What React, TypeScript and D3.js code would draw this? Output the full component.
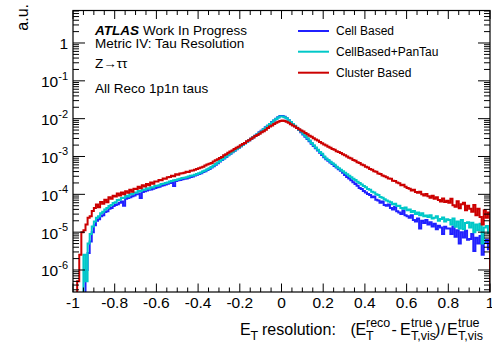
import React from 'react';
import * as d3 from 'd3';

// ---- data (log10 of normalised bin content, 200 bins of width 0.01 from -1 to 1) ----
const BIN_LOW = -1;
const BIN_WIDTH = 0.01;

const clusterBasedLog: (number | null)[] = [
  null, null, -6.3, -5.6, -5.0, -4.95, -4.8, -4.62, -4.58, -4.44,
  -4.36, -4.27, -4.34, -4.20, -4.25, -4.14, -4.21, -4.08, -4.12, -4.04,
  -4.06, -3.98, -4.03, -3.95, -4.00, -3.92, -3.96, -3.88, -3.93, -3.85,
  -3.86, -3.80, -3.84, -3.76, -3.79, -3.73, -3.76, -3.69, -3.72, -3.66,
  -3.66, -3.62, -3.63, -3.58, -3.59, -3.55, -3.54, -3.51, -3.52, -3.47,
  -3.48, -3.45, -3.44, -3.43, -3.40, -3.41, -3.38, -3.37, -3.35, -3.33,
  -3.31, -3.29, -3.27, -3.24, -3.21, -3.19, -3.17, -3.13, -3.10, -3.07,
  -3.04, -3.01, -2.97, -2.94, -2.90, -2.87, -2.84, -2.80, -2.77, -2.74,
  -2.70, -2.67, -2.64, -2.60, -2.57, -2.53, -2.50, -2.46, -2.43, -2.40,
  -2.36, -2.33, -2.29, -2.25, -2.21, -2.18, -2.14, -2.11, -2.08, -2.06,
  -2.05, -2.06, -2.08, -2.11, -2.15, -2.18, -2.21, -2.25, -2.28, -2.31,
  -2.34, -2.38, -2.41, -2.45, -2.48, -2.52, -2.55, -2.58, -2.62, -2.65,
  -2.68, -2.71, -2.74, -2.77, -2.80, -2.82, -2.86, -2.88, -2.91, -2.94,
  -2.97, -3.00, -3.03, -3.05, -3.09, -3.11, -3.15, -3.17, -3.21, -3.23,
  -3.27, -3.29, -3.33, -3.35, -3.39, -3.40, -3.45, -3.46, -3.50, -3.52,
  -3.55, -3.58, -3.59, -3.64, -3.65, -3.69, -3.71, -3.76, -3.75, -3.80,
  -3.83, -3.85, -3.90, -3.88, -3.94, -3.96, -3.93, -4.00, -4.03, -3.99,
  -4.05, -4.09, -4.04, -4.12, -4.08, -4.15, -4.19, -4.11, -4.20, -4.17,
  -4.22, -4.12, -4.29, -4.33, -4.18, -4.37, -4.26, -4.22, -4.42, -4.30,
  -4.38, -4.46, -4.28, -4.55, -4.38, -4.60, -4.80, -4.42, -4.62, -4.48,
];

const cellPanTauLog: (number | null)[] = [
  null, null, null, null, null, -5.6, -6.3, -5.3, -5.05, -4.85,
  -4.72, -4.62, -4.58, -4.50, -4.46, -4.40, -4.36, -4.31, -4.28, -4.23,
  -4.21, -4.15, -4.14, -4.10, -4.09, -4.04, -4.06, -3.99, -4.00, -3.95,
  -3.96, -3.91, -3.92, -3.87, -3.88, -3.84, -3.85, -3.81, -3.82, -3.78,
  -3.77, -3.76, -3.73, -3.72, -3.70, -3.69, -3.66, -3.65, -3.63, -3.62,
  -3.60, -3.59, -3.57, -3.56, -3.55, -3.53, -3.51, -3.50, -3.48, -3.46,
  -3.44, -3.42, -3.39, -3.37, -3.34, -3.31, -3.28, -3.24, -3.20, -3.16,
  -3.12, -3.08, -3.04, -3.00, -2.96, -2.92, -2.88, -2.84, -2.80, -2.77,
  -2.73, -2.69, -2.65, -2.61, -2.57, -2.53, -2.49, -2.45, -2.41, -2.37,
  -2.33, -2.28, -2.24, -2.19, -2.14, -2.10, -2.05, -2.01, -1.97, -1.94,
  -1.94, -1.96, -1.99, -2.04, -2.09, -2.14, -2.19, -2.24, -2.29, -2.34,
  -2.40, -2.46, -2.52, -2.58, -2.64, -2.70, -2.76, -2.82, -2.88, -2.93,
  -3.00, -3.05, -3.09, -3.14, -3.18, -3.22, -3.27, -3.31, -3.35, -3.39,
  -3.43, -3.47, -3.51, -3.55, -3.59, -3.62, -3.67, -3.70, -3.74, -3.78,
  -3.81, -3.86, -3.88, -3.93, -3.95, -4.00, -4.02, -4.07, -4.09, -4.13,
  -4.16, -4.19, -4.21, -4.26, -4.25, -4.31, -4.30, -4.36, -4.38, -4.35,
  -4.42, -4.40, -4.47, -4.44, -4.52, -4.48, -4.55, -4.50, -4.58, -4.56,
  -4.60, -4.55, -4.64, -4.62, -4.58, -4.70, -4.65, -4.61, -4.72, -4.66,
  -4.68, -4.80, -4.64, -4.86, -4.72, -4.90, -4.68, -4.92, -4.76, -4.74,
  -4.88, -4.75, -5.00, -4.80, -4.95, -4.78, -5.30, -4.88, -4.84, -5.02,
];

const cellBasedLog: (number | null)[] = [
  null, null, null, null, null, null, -6.0, -5.55, -5.25, -5.0,
  -4.82, -4.70, -4.66, -4.58, -4.55, -4.47, -4.45, -4.38, -4.36, -4.31,
  -4.28, -4.26, -4.22, -4.19, -4.30, -4.12, -4.10, -4.08, -4.05, -4.03,
  -4.00, -3.98, -4.10, -3.94, -3.92, -3.90, -3.88, -3.87, -3.85, -3.83,
  -3.81, -3.80, -3.77, -3.76, -3.74, -3.72, -3.70, -3.69, -3.78, -3.65,
  -3.63, -3.62, -3.60, -3.59, -3.58, -3.56, -3.54, -3.53, -3.50, -3.48,
  -3.46, -3.44, -3.41, -3.39, -3.36, -3.33, -3.29, -3.26, -3.22, -3.18,
  -3.13, -3.09, -3.05, -3.01, -2.97, -2.93, -2.89, -2.85, -2.81, -2.77,
  -2.73, -2.69, -2.65, -2.61, -2.57, -2.53, -2.49, -2.45, -2.41, -2.36,
  -2.32, -2.28, -2.23, -2.19, -2.14, -2.09, -2.05, -2.00, -1.96, -1.93,
  -1.93, -1.95, -1.99, -2.04, -2.09, -2.14, -2.20, -2.25, -2.30, -2.36,
  -2.42, -2.48, -2.54, -2.60, -2.66, -2.72, -2.78, -2.84, -2.90, -2.96,
  -3.02, -3.07, -3.11, -3.16, -3.20, -3.25, -3.29, -3.34, -3.38, -3.43,
  -3.49, -3.54, -3.58, -3.63, -3.68, -3.73, -3.77, -3.83, -3.86, -3.91,
  -3.95, -3.99, -4.02, -4.08, -4.06, -4.14, -4.16, -4.22, -4.19, -4.28,
  -4.30, -4.27, -4.36, -4.40, -4.33, -4.45, -4.48, -4.52, -4.43, -4.55,
  -4.58, -4.62, -4.55, -4.68, -4.72, -4.64, -4.90, -4.70, -4.76, -4.68,
  -4.80, -4.74, -4.85, -4.78, -4.92, -4.83, -4.88, -5.05, -4.86, -4.90,
  -4.90, -5.05, -4.85, -5.12, -4.95, -5.30, -5.00, -5.14, -4.96, -5.20,
  -5.18, -5.05, -5.50, -5.15, -5.30, -5.10, -5.60, -5.28, -5.20, -5.45,
];

const seriesNames = ['Cell Based', 'CellBased+PanTau', 'Cluster Based'];
const seriesColors = ['#2020ff', '#00c8c8', '#cc0000'];
const seriesData = [cellBasedLog, cellPanTauLog, clusterBasedLog];

const xTickValues = [-1, -0.8, -0.6, -0.4, -0.2, 0, 0.2, 0.4, 0.6, 0.8, 1];
const xTickLabels = ['-1', '-0.8', '-0.6', '-0.4', '-0.2', '0', '0.2', '0.4', '0.6', '0.8', '1'];
const yDecades = [-6, -5, -4, -3, -2, -1, 0];

const infoLines = ['Metric IV: Tau Resolution', 'Z\u2192\u03c4\u03c4', 'All Reco 1p1n taus'];

// ---- layout ----
const W = 492;
const H = 347;
const FL = 73;
const FR = 490;
const FT = 10.5;
const FB = 292;
const FONT = "'Liberation Sans', Arial, Helvetica, sans-serif";

const xScale = d3.scaleLinear().domain([-1, 1]).range([FL, FR]);
const yScale = d3.scaleLog().domain([Math.pow(10, -6.5816), Math.pow(10, 0.859)]).range([FB, FT]);

function histPath(vals: (number | null)[]): string {
  const bottom = FB + 20;
  let d = '';
  vals.forEach((v, i) => {
    const xa = xScale(BIN_LOW + i * BIN_WIDTH);
    const xb = xScale(BIN_LOW + (i + 1) * BIN_WIDTH);
    const y = v == null ? bottom : yScale(Math.pow(10, v));
    if (i === 0) d += `M${xa},${bottom}V${y}`;
    else d += `V${y}`;
    d += `H${xb}`;
  });
  d += `V${bottom}`;
  return d;
}

export default function App() {
  const [ymin, ymax] = yScale.domain();
  const yMinor: number[] = [];
  for (let e = -7; e <= 0; e++) {
    for (let k = 2; k <= 9; k++) {
      const v = k * Math.pow(10, e);
      if (v > ymin && v < ymax) yMinor.push(v);
    }
  }
  const xMinor: number[] = d3.range(-1, 1.0001, 0.05).map((v) => Math.round(v * 100) / 100);
  const SS = 12.5; // script size in x title

  return (
    <svg width={W} height={H} style={{ position: 'absolute', left: 0, top: 0, background: '#fff' }} fontFamily={FONT}>
      <defs>
        <clipPath id="frame">
          <rect x={FL} y={FT} width={FR - FL} height={FB - FT} />
        </clipPath>
      </defs>
      <rect x={0} y={0} width={W} height={H} fill="#fff" />

      {/* histograms */}
      <g clipPath="url(#frame)">
        {seriesData.map((vals, si) => (
          <path key={si} d={histPath(vals)} fill="none" stroke={seriesColors[si]} strokeWidth={2} strokeLinejoin="miter" />
        ))}
      </g>

      {/* frame */}
      <rect x={FL} y={FT} width={FR - FL} height={FB - FT} fill="none" stroke="#000" strokeWidth={1.2} />

      {/* x ticks */}
      {xMinor.map((v, i) => {
        const isMajor = Math.abs(v * 5 - Math.round(v * 5)) < 1e-6;
        const len = isMajor ? 8.5 : 4.5;
        const x = xScale(v);
        return (
          <g key={'xt' + i}>
            <line x1={x} x2={x} y1={FB} y2={FB - len} stroke="#000" strokeWidth={1} />
            <line x1={x} x2={x} y1={FT} y2={FT + len} stroke="#000" strokeWidth={1} />
          </g>
        );
      })}
      {xTickValues.map((v, i) => (
        <text key={'xl' + i} x={xScale(v)} y={307.5} fontSize={15.5} textAnchor="middle" fill="#000">
          {xTickLabels[i]}
        </text>
      ))}

      {/* y ticks */}
      {yMinor.map((v, i) => {
        const y = yScale(v);
        return (
          <g key={'ym' + i}>
            <line x1={FL} x2={FL + 6} y1={y} y2={y} stroke="#000" strokeWidth={1} />
            <line x1={FR} x2={FR - 6} y1={y} y2={y} stroke="#000" strokeWidth={1} />
          </g>
        );
      })}
      {yDecades.map((e) => {
        const y = yScale(Math.pow(10, e));
        return (
          <g key={'yM' + e}>
            <line x1={FL} x2={FL + 12} y1={y} y2={y} stroke="#000" strokeWidth={1} />
            <line x1={FR} x2={FR - 12} y1={y} y2={y} stroke="#000" strokeWidth={1} />
            {e === 0 ? (
              <text x={68} y={y + 6} fontSize={15.5} textAnchor="end">1</text>
            ) : (
              <text x={68} y={y + 6.5} fontSize={15.5} textAnchor="end">
                10<tspan fontSize={11} dy={-7.5}>{String(e)}</tspan>
              </text>
            )}
          </g>
        );
      })}

      {/* y title */}
      <text transform="translate(28,4) rotate(-90)" fontSize={16} textAnchor="end">a.u.</text>

      {/* x title */}
      <g fontSize={16} fill="#000">
        <text x={240} y={335}>E</text>
        <text x={250.5} y={340} fontSize={SS}>T</text>
        <text x={262} y={335}>resolution:</text>
        <text x={350.5} y={335}>(</text>
        <text x={355.5} y={335}>E</text>
        <text x={366} y={326.5} fontSize={SS}>reco</text>
        <text x={366} y={340} fontSize={SS}>T</text>
        <text x={391.5} y={335}>-</text>
        <text x={400} y={335}>E</text>
        <text x={411} y={326.5} fontSize={SS}>true</text>
        <text x={411} y={340} fontSize={SS}>T,vis</text>
        <text x={435} y={335}>)</text>
        <text x={441} y={335}>/</text>
        <text x={447} y={335}>E</text>
        <text x={458} y={326.5} fontSize={SS}>true</text>
        <text x={458} y={340} fontSize={SS}>T,vis</text>
      </g>

      {/* ATLAS label & info */}
      <text x={95} y={35} fontSize={13.5}>
        <tspan fontWeight="bold" fontStyle="italic">ATLAS</tspan>
        <tspan dx={4}>Work In Progress</tspan>
      </text>
      {infoLines.map((t, i) => (
        <text key={'info' + i} x={95} y={[47.5, 68, 93][i]} fontSize={13.5}>{t}</text>
      ))}

      {/* legend */}
      {seriesNames.map((name, i) => {
        const y = [31, 51.7, 72.7][i];
        return (
          <g key={'leg' + i}>
            <line x1={298} x2={329} y1={y} y2={y} stroke={seriesColors[i]} strokeWidth={2} />
            <text x={336} y={y + 4.3} fontSize={12}>{name}</text>
          </g>
        );
      })}
    </svg>
  );
}
